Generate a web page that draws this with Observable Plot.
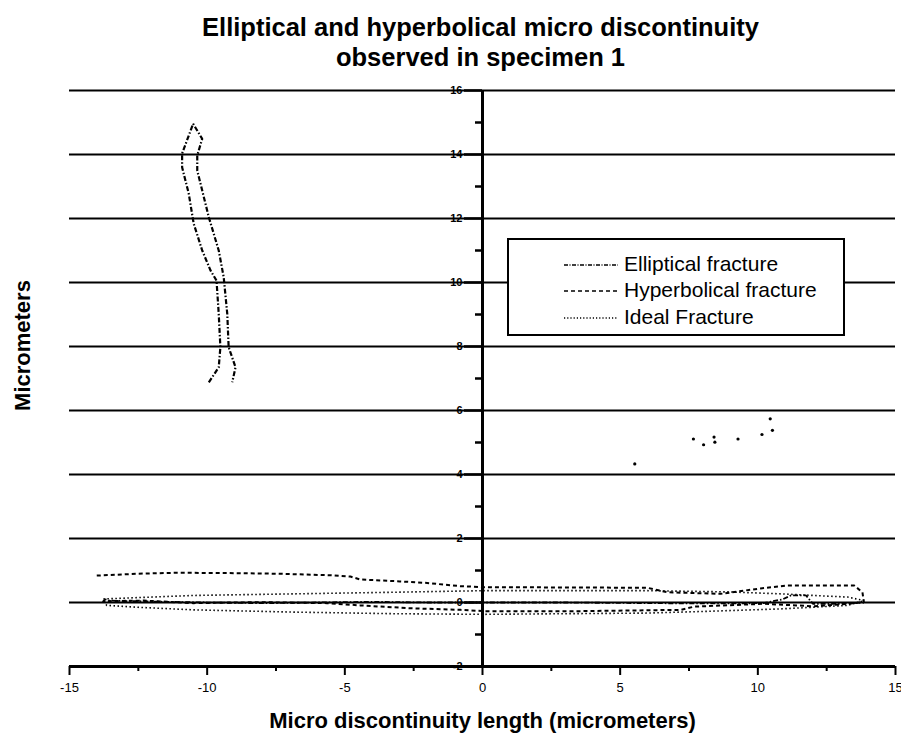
<!DOCTYPE html>
<html>
<head>
<meta charset="utf-8">
<script src="https://cdn.jsdelivr.net/npm/d3@7"></script>
<script src="https://cdn.jsdelivr.net/npm/@observablehq/plot@0.6"></script>
<style>
  html, body { margin: 0; padding: 0; background: #fff; }
  body { width: 901px; height: 741px; position: relative; overflow: hidden; font-family: "Liberation Sans", Arial, sans-serif; color: #000; }
  #title { height: 80px; box-sizing: border-box; padding-top: 12px; padding-left: 60px; text-align: center; font-weight: bold; font-size: 25.5px; line-height: 30px; white-space: nowrap; }
  #legend { position: absolute; left: 507px; top: 238px; width: 334px; height: 94px; border: 2px solid #000; background: #fff; }
  .row { position: absolute; left: 0; height: 24px; line-height: 24px; font-size: 21px; white-space: nowrap; }
  .row svg { position: absolute; left: 54px; top: 11px; }
  .row span { position: absolute; left: 115px; top: 0; }
</style>
</head>
<body>
<div id="title"></div>
<div id="chart"></div>
<div id="legend"></div>
<script>
// ---- texts ----
const titleLines = ["Elliptical and hyperbolical micro discontinuity", "observed in specimen 1"];
const xTitle = "Micro discontinuity length (micrometers)";
const yTitle = "Micrometers";
const legendLabels = ["Elliptical fracture", "Hyperbolical fracture", "Ideal Fracture"];

// ---- ticks ----
const xMajorTicks = [-15, -10, -5, 0, 5, 10, 15];
const xMinorTicks = [-12.5, -7.5, -2.5, 2.5, 7.5, 12.5];
const yMajorTicks = [16, 14, 12, 10, 8, 6, 4, 2, 0, -2];
const yMinorTicks = [15, 13, 11, 9, 7, 5, 3, 1, -1];

// ---- series (x, y in micrometers) ----
const ellipticalLoop = [
  [-9.94, 6.88], [-9.58, 7.35], [-9.52, 7.98], [-9.58, 9.02], [-9.66, 10.06], [-9.88, 10.38],
  [-10.18, 11.0], [-10.49, 11.84], [-10.67, 12.78], [-10.91, 13.6], [-10.91, 14.03], [-10.51, 14.96],
  [-10.18, 14.49], [-10.36, 13.97], [-10.36, 13.5], [-9.94, 12.04], [-9.58, 11.0], [-9.40, 10.17],
  [-9.27, 9.02], [-9.22, 7.98], [-8.97, 7.35], [-9.09, 6.88]
];
const ellipticalFlat = [
  [-13.8, 0.02], [-13.7, 0.1], [-13.55, 0.06], [-13.3, 0.05], [-12.5, 0.04], [-11.5, 0.02],
  [-10, 0.0], [-8, -0.02], [-6, 0.0], [-4, 0.02], [-2, 0.0], [0, 0.0], [3, 0.0], [6, -0.02],
  [8.5, -0.03], [10.2, -0.02], [10.9, 0.1], [11.2, 0.22], [11.75, 0.22], [12.0, -0.04],
  [13, -0.04], [13.85, 0.0]
];
const hyperbolical = [
  [-14.01, 0.84], [-12.5, 0.9], [-11.1, 0.93], [-9.28, 0.92], [-7.47, 0.9], [-5.5, 0.85],
  [-4.8, 0.81], [-4.44, 0.72], [-3, 0.66], [-2.01, 0.61], [-0.8, 0.51], [0.05, 0.48], [3, 0.47],
  [5.99, 0.46], [6.71, 0.32], [8.65, 0.27], [10.1, 0.44], [11.07, 0.53], [13.5, 0.53], [13.8, 0.32],
  [13.85, 0.01], [13.26, -0.04], [12.05, -0.12], [10.23, -0.04], [7.68, -0.13], [7.2, -0.23],
  [3.56, -0.27], [0.05, -0.27], [-0.8, -0.23], [-2.62, -0.18], [-4.44, -0.09], [-5.65, -0.02],
  [-8.07, 0.01], [-10.5, -0.02], [-12.3, 0.06], [-13.77, 0.04]
];
const ideal = [
  [-13.77, 0.11], [-12, 0.17], [-10.5, 0.22], [-6.86, 0.27], [-3.23, 0.32], [0.05, 0.37],
  [5.99, 0.37], [9, 0.33], [10.84, 0.27], [12.5, 0.2], [13.26, 0.17], [13.87, 0.06],
  [13.26, -0.09], [10.84, -0.2], [8, -0.28], [5.99, -0.33], [0.05, -0.37], [-3.23, -0.35],
  [-6.86, -0.3], [-10.5, -0.23], [-12.5, -0.15], [-13.65, -0.09], [-13.77, 0.11]
];
const specks = [
  [10.45, 5.74], [10.53, 5.38], [8.41, 5.17], [8.44, 5.01], [8.03, 4.93], [7.66, 5.11],
  [9.28, 5.11], [10.15, 5.25], [5.53, 4.33]
];

// ---- styles ----
const dashElliptical = "5,2,1.5,2";
const dashHyperbolical = "4,3";
const dashIdeal = "1.5,2.5";
const legendDashes = ["4,1.5,1,1.5", "4,3", "1.2,2"];

document.getElementById("title").innerHTML = titleLines.map(t => `<div>${t}</div>`).join("");

const X = d => d[0], Y = d => d[1];
const lineStyle = {x: X, y: Y, stroke: "#000", strokeLinecap: "butt", strokeLinejoin: "miter"};

const chart = Plot.plot({
  width: 901,
  height: 661,
  marginTop: 10,
  marginBottom: 75,
  marginLeft: 69,
  marginRight: 6,
  x: {domain: [-15, 15]},
  y: {domain: [-2, 16], axis: null},
  style: {fontFamily: "'Liberation Sans', Arial, sans-serif", background: "#fff", color: "#000", overflow: "visible"},
  marks: [
    Plot.text(yMajorTicks, {x: 0, y: d => d, text: d => String(d), dx: -20, textAnchor: "end", fontSize: 11, fontWeight: "bold", fill: "#000"}),
    Plot.ruleY(yMajorTicks.filter(d => d > -2), {stroke: "#000", strokeWidth: 1.8}),
    Plot.ruleY(yMajorTicks, {x1: 0, x2: 0, insetLeft: -18, stroke: "#000", strokeWidth: 2.5}),
    Plot.ruleY(yMinorTicks, {x1: 0, x2: 0, insetLeft: -7, stroke: "#000", strokeWidth: 2.5}),
    Plot.axisX(xMajorTicks, {tickSize: 9, tickPadding: 7, strokeWidth: 2, stroke: "#000", fill: "#000", fontSize: 13, tickFormat: d => String(d), label: null}),
    Plot.axisX(xMinorTicks, {tickSize: 5, strokeWidth: 2, stroke: "#000", fill: "none", label: null}),
    Plot.ruleY([-2], {stroke: "#000", strokeWidth: 3}),
    Plot.ruleX([0], {y1: -2, y2: 16, stroke: "#000", strokeWidth: 3}),
    Plot.line(ideal, {...lineStyle, strokeWidth: 1.6, strokeDasharray: dashIdeal}),
    Plot.line(hyperbolical, {...lineStyle, strokeWidth: 2, strokeDasharray: dashHyperbolical}),
    Plot.line(ellipticalFlat, {...lineStyle, strokeWidth: 1.8, strokeDasharray: dashElliptical}),
    Plot.line(ellipticalLoop, {...lineStyle, strokeWidth: 2.2, strokeDasharray: dashElliptical}),
    Plot.dot(specks, {x: X, y: Y, r: 1.6, fill: "#000", stroke: null}),
    Plot.text([xTitle], {frameAnchor: "bottom", dy: 54, lineAnchor: "middle", textAnchor: "middle", text: d => d, fontSize: 22, fontWeight: "bold", fill: "#000"}),
    Plot.text([yTitle], {frameAnchor: "left", dx: -47, dy: -33, rotate: -90, lineAnchor: "middle", textAnchor: "middle", text: d => d, fontSize: 22, fontWeight: "bold", fill: "#000"})
  ]
});
document.getElementById("chart").appendChild(chart);

// legend
const legend = document.getElementById("legend");
const rowCenters = [26, 52, 79];
legendLabels.forEach((lab, i) => {
  const row = document.createElement("div");
  row.className = "row";
  row.style.top = (rowCenters[i] - 2 - 12) + "px";
  row.innerHTML = `<svg width="56" height="4"><line x1="1" y1="2" x2="55" y2="2" stroke="#000" stroke-width="1.3" stroke-dasharray="${legendDashes[i]}"/></svg><span>${lab}</span>`;
  legend.appendChild(row);
});
</script>
</body>
</html>
